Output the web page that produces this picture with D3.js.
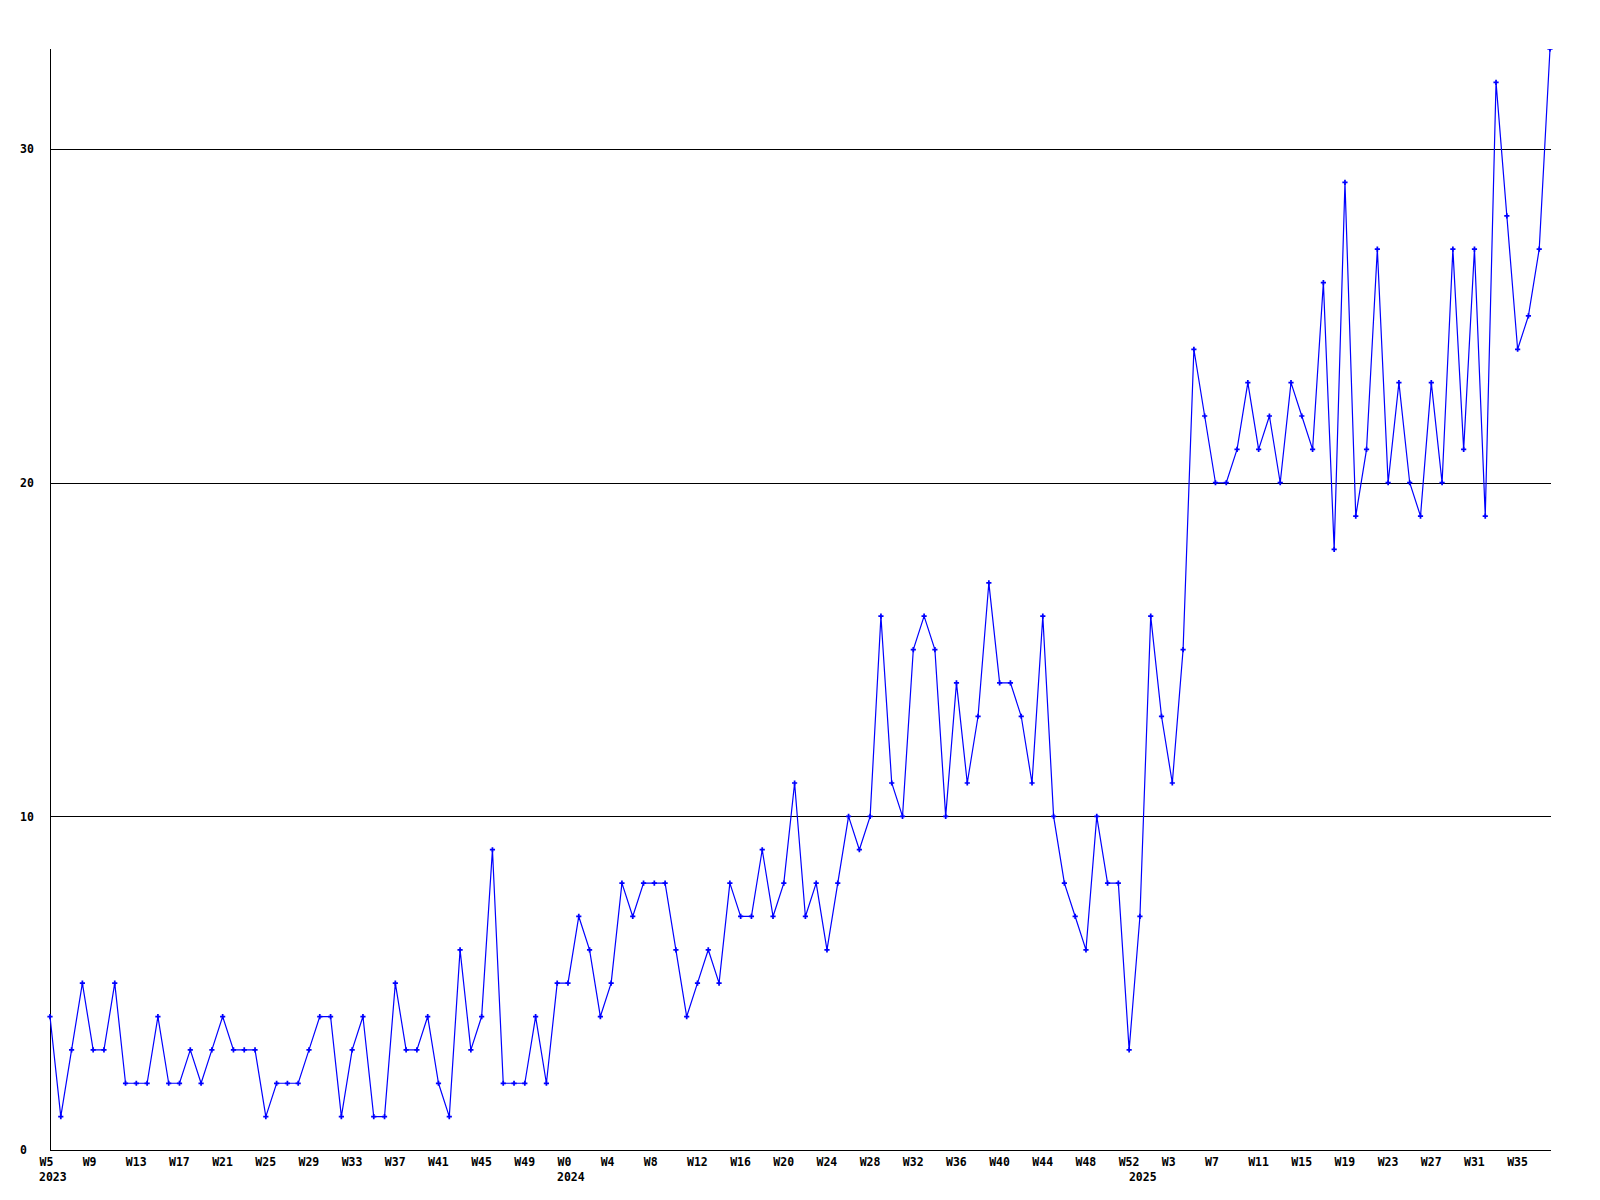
<!DOCTYPE html>
<html lang="en">
<head>
    <meta charset="utf-8">
    <title>Weekly count</title>
    <script src="https://d3js.org/d3.v7.min.js" charset="utf-8"></script>
    <style>
        body { margin: 0; background: #fff; }
        text { font-family: "DejaVu Sans Mono", "Liberation Mono", monospace; font-weight: bold; font-size: 11.5px; fill: #000; }
    </style>
</head>
<body>
    <div id="chart-holder"></div>
<script type="text/javascript">

// week label for every point, in order
var weeks2023 = d3.range( 5, 53 ).map( function( w ){ return "W" + w; } );
var weeks2024 = d3.range( 0, 53 ).map( function( w ){ return "W" + w; } );
var weeks2025 = d3.range( 0, 39 ).map( function( w ){ return "W" + w; } );
var weekLabels = weeks2023.concat( weeks2024, weeks2025 );

// year shown under the first week of each year
var years = [ "2023", "2024", "2025" ];
var yearStart = [ 0, weeks2023.length, weeks2023.length + weeks2024.length ];

// counts per week
var counts2023 = [ 4,1,3,5,3,3,5,2,2,2,4,2,2,3,2,3,4,3,3,3,1,2,2,2,3,4,4,1,3,4,1,1,5,3,3,
                   4,2,1,6,3,4,9,2,2,2,4,2,5 ];
var counts2024 = [ 5,7,6,4,5,8,7,8,8,8,6,4,5,6,5,8,7,7,9,7,8,11,7,8,
                   6,8,10,9,10,16,11,10,15,16,15,10,14,11,13,17,14,14,13,11,16,10,8,7,6,10,8,8,3 ];
var counts2025 = [ 7,16,13,11,15,24,22,20,20,21,23,21,22,20,23,22,21,26,18,29,19,21,27,20,23,20,19,23,20,27,21,27,19,32,28,24,25,27,33 ];
var counts = counts2023.concat( counts2024, counts2025 );

var yTicks = [ 0, 10, 20, 30 ];

// Width and Height of the whole thing
// (don't call these top/left etc, window.top is read only)
var width = 1600;
var height = 1200;
var plotLeft = 50, plotRight = 1550, plotTop = 49, plotBottom = 1150;

var svg = d3.select( "#chart-holder" )
    .append( "svg" )
    .attr( "width", width )
    .attr( "height", height );

var x = d3.scalePoint()
    .domain( d3.range( counts.length ) )
    .range( [ plotLeft, plotRight ] );

var y = d3.scaleLinear()
    .domain( [ 0, d3.max( counts ) ] )
    .range( [ plotBottom, plotTop ] );

// horizontal grid + y labels
var yAxis = svg.append( "g" )
    .attr( "transform", "translate(" + plotLeft + ",0)" )
    .call( d3.axisLeft( y ).tickValues( yTicks ).tickSize( -( plotRight + 1 - plotLeft ) ).tickPadding( 0 ) );
yAxis.select( ".domain" ).remove();
yAxis.selectAll( "line" ).attr( "stroke", "#000" ).attr( "shape-rendering", "crispEdges" );
yAxis.selectAll( "text" )
    .attr( "x", 20 - plotLeft )
    .attr( "text-anchor", "start" )
    .attr( "fill", "#000" )
    .style( "font-size", "11.5px" )
    .style( "font-family", "'DejaVu Sans Mono', monospace" );

// week labels along the bottom, every 4th week
var xAxis = svg.append( "g" )
    .attr( "transform", "translate(0," + plotBottom + ")" )
    .call( d3.axisBottom( x )
        .tickValues( x.domain().filter( function( i ){ return i % 4 === 0; } ) )
        .tickFormat( function( i ){ return weekLabels[ i ]; } )
        .tickSize( 0 )
        .tickPadding( 8 ) );
xAxis.select( ".domain" ).remove();
xAxis.selectAll( "text" )
    .attr( "x", -11 )
    .attr( "text-anchor", "start" )
    .attr( "fill", "#000" )
    .style( "font-size", "11.5px" )
    .style( "font-family", "'DejaVu Sans Mono', monospace" );

// year labels
svg.append( "g" ).selectAll( "text" )
    .data( years )
    .enter()
    .append( "text" )
    .attr( "x", function( d, i ){ return x( yearStart[ i ] ) - 11; } )
    .attr( "y", plotBottom + 23 )
    .attr( "dy", "0.71em" )
    .text( function( d ){ return d; } );

// frame: left and bottom
svg.append( "line" )
    .attr( "x1", plotLeft + 0.5 ).attr( "x2", plotLeft + 0.5 )
    .attr( "y1", plotTop ).attr( "y2", plotBottom + 0.5 )
    .attr( "stroke", "#000" )
    .attr( "shape-rendering", "crispEdges" );
svg.append( "line" )
    .attr( "x1", plotLeft ).attr( "x2", plotRight + 1 )
    .attr( "y1", plotBottom + 0.5 ).attr( "y2", plotBottom + 0.5 )
    .attr( "stroke", "#000" )
    .attr( "shape-rendering", "crispEdges" );

// keep the marks below the top edge
svg.append( "clipPath" ).attr( "id", "plot-clip" )
    .append( "rect" )
    .attr( "x", 0 ).attr( "y", plotTop )
    .attr( "width", width ).attr( "height", height - plotTop );

var plot = svg.append( "g" ).attr( "clip-path", "url(#plot-clip)" );

var line = d3.line()
    .x( function( d, i ){ return x( i ); } )
    .y( function( d ){ return y( d ); } );

plot.append( "path" )
    .datum( counts )
    .attr( "fill", "none" )
    .attr( "stroke", "#0000ff" )
    .attr( "stroke-width", 1.2 )
    .attr( "d", line );

var marker = d3.symbol().type( d3.symbolCross ).size( 15 );

plot.selectAll( ".pt" )
    .data( counts )
    .enter()
    .append( "path" )
    .attr( "class", "pt" )
    .attr( "fill", "#0000ff" )
    .attr( "transform", function( d, i ){ return "translate(" + x( i ) + "," + y( d ) + ")"; } )
    .attr( "d", marker );

</script>
</body>
</html>
